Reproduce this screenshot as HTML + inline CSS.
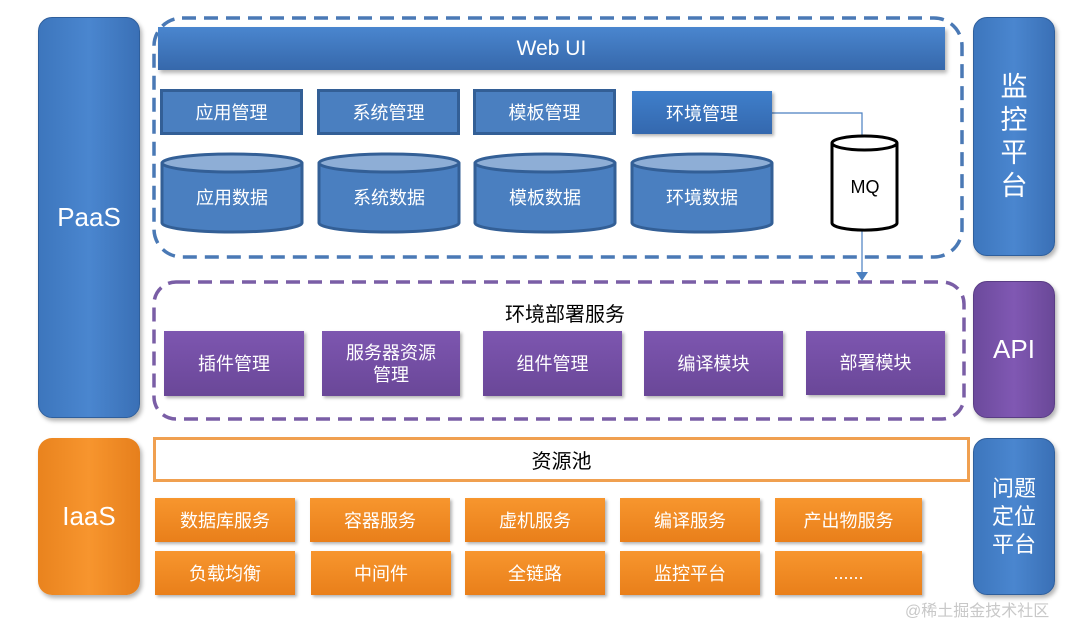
<!DOCTYPE html>
<html><head><meta charset="utf-8"><style>
body{margin:0;width:1076px;height:625px;background:#fff;position:relative;overflow:hidden;font-family:"Liberation Sans","Noto Sans CJK SC",sans-serif}
.a{position:absolute;box-sizing:border-box;display:flex;align-items:center;justify-content:center;text-align:center;color:#fff}
.side{border-radius:14px;font-size:26px;box-shadow:2px 3px 4px rgba(0,0,0,.3)}
.blue{background:linear-gradient(90deg,#3d76bd,#4a86cf 50%,#3a70b6);border:1px solid #2f5f9c}
.purple{background:linear-gradient(90deg,#6c4a9c,#8058b3 50%,#6a4898);border:1px solid #5a3d85}
.orange{background:linear-gradient(90deg,#e9831e,#f7952e 50%,#e67f1c)}
.mg{background:#4a7fc0;border:3px solid #335f96;font-size:18px}
.pb{background:linear-gradient(#7d56b0,#6a4798);font-size:18px;line-height:22px;box-shadow:2px 2px 3px rgba(0,0,0,.3)}
.ob{background:linear-gradient(#f7962e,#e97f1a);font-size:18px;box-shadow:2px 2px 3px rgba(0,0,0,.3)}
</style></head><body>
<div class="a side blue" style="left:38px;top:17px;width:102px;height:401px">PaaS</div>
<div class="a side blue" style="left:973px;top:17px;width:82px;height:239px;font-size:27px;line-height:33px">监<br>控<br>平<br>台</div>
<div class="a side purple" style="left:973px;top:281px;width:82px;height:137px">API</div>
<div class="a side orange" style="left:38px;top:438px;width:102px;height:157px">IaaS</div>
<div class="a side blue" style="left:973px;top:438px;width:82px;height:157px;font-size:22px;line-height:28px">问题<br>定位<br>平台</div>

<svg style="position:absolute;left:0;top:0" width="1076" height="625">
<rect x="154" y="18" width="808" height="239" rx="28" fill="none" stroke="#4a79b5" stroke-width="3.5" stroke-dasharray="14,8"/>
<rect x="154" y="282" width="810" height="137" rx="22" fill="none" stroke="#7a5ea6" stroke-width="3.5" stroke-dasharray="14,8"/>
<polyline points="772,113 862,113 862,137" fill="none" stroke="#4a7fc0" stroke-width="1.2"/>
<line x1="862" y1="228" x2="862" y2="272" stroke="#4a7fc0" stroke-width="1.2"/>
<polygon points="856,272 868,272 862,281" fill="#4a7fc0"/>
<g stroke="#000" stroke-width="3" fill="#fff">
<path d="M832,143 v80 a32,7 0 0 0 65,0 v-80"/>
<ellipse cx="864.5" cy="143" rx="32.5" ry="7"/>
</g>
<text x="865" y="193" font-size="18" text-anchor="middle" font-family="Liberation Sans">MQ</text>
<g font-family="Liberation Sans,Noto Sans CJK SC,sans-serif" font-size="18" fill="#fff" text-anchor="middle">
<g stroke="#335f96" stroke-width="3">
<path d="M162,163 v60 a70,9 0 0 0 140,0 v-60" fill="#4a7fc0"/><ellipse cx="232" cy="163" rx="70" ry="9" fill="#8eaed6"/>
<path d="M319,163 v60 a70,9 0 0 0 140,0 v-60" fill="#4a7fc0"/><ellipse cx="389" cy="163" rx="70" ry="9" fill="#8eaed6"/>
<path d="M475,163 v60 a70,9 0 0 0 140,0 v-60" fill="#4a7fc0"/><ellipse cx="545" cy="163" rx="70" ry="9" fill="#8eaed6"/>
<path d="M632,163 v60 a70,9 0 0 0 140,0 v-60" fill="#4a7fc0"/><ellipse cx="702" cy="163" rx="70" ry="9" fill="#8eaed6"/>
</g>
<text x="232" y="204">应用数据</text><text x="389" y="204">系统数据</text><text x="545" y="204">模板数据</text><text x="702" y="204">环境数据</text>
</g>
</svg>

<div class="a" style="left:158px;top:27px;width:787px;height:43px;background:linear-gradient(#4a86cf,#3668ab);font-size:21px;box-shadow:2px 3px 4px rgba(0,0,0,.3)">Web UI</div>
<div class="a mg" style="left:160px;top:89px;width:143px;height:46px">应用管理</div>
<div class="a mg" style="left:317px;top:89px;width:143px;height:46px">系统管理</div>
<div class="a mg" style="left:473px;top:89px;width:143px;height:46px">模板管理</div>
<div class="a" style="left:632px;top:91px;width:140px;height:43px;background:linear-gradient(#3f7fcb,#3468ae);font-size:18px;box-shadow:2px 2px 3px rgba(0,0,0,.3)">环境管理</div>

<div class="a" style="left:400px;top:298px;width:330px;height:28px;color:#000;font-size:20px">环境部署服务</div>
<div class="a pb" style="left:164px;top:331px;width:140px;height:65px">插件管理</div>
<div class="a pb" style="left:322px;top:331px;width:138px;height:65px">服务器资源<br>管理</div>
<div class="a pb" style="left:483px;top:331px;width:139px;height:65px">组件管理</div>
<div class="a pb" style="left:644px;top:331px;width:139px;height:65px">编译模块</div>
<div class="a pb" style="left:806px;top:331px;width:139px;height:64px">部署模块</div>

<div class="a" style="left:153px;top:437px;width:817px;height:45px;border:3px solid #f0a050;color:#000;font-size:20px">资源池</div>
<div class="a ob" style="left:155px;top:498px;width:140px;height:44px">数据库服务</div>
<div class="a ob" style="left:310px;top:498px;width:140px;height:44px">容器服务</div>
<div class="a ob" style="left:465px;top:498px;width:140px;height:44px">虚机服务</div>
<div class="a ob" style="left:620px;top:498px;width:140px;height:44px">编译服务</div>
<div class="a ob" style="left:775px;top:498px;width:147px;height:44px">产出物服务</div>
<div class="a ob" style="left:155px;top:551px;width:140px;height:44px">负载均衡</div>
<div class="a ob" style="left:311px;top:551px;width:140px;height:44px">中间件</div>
<div class="a ob" style="left:465px;top:551px;width:140px;height:44px">全链路</div>
<div class="a ob" style="left:620px;top:551px;width:140px;height:44px">监控平台</div>
<div class="a ob" style="left:775px;top:551px;width:147px;height:44px">......</div>
<div style="position:absolute;left:905px;top:597px;font-size:16px;color:#c8c8c8">@稀土掘金技术社区</div>
</body></html>
